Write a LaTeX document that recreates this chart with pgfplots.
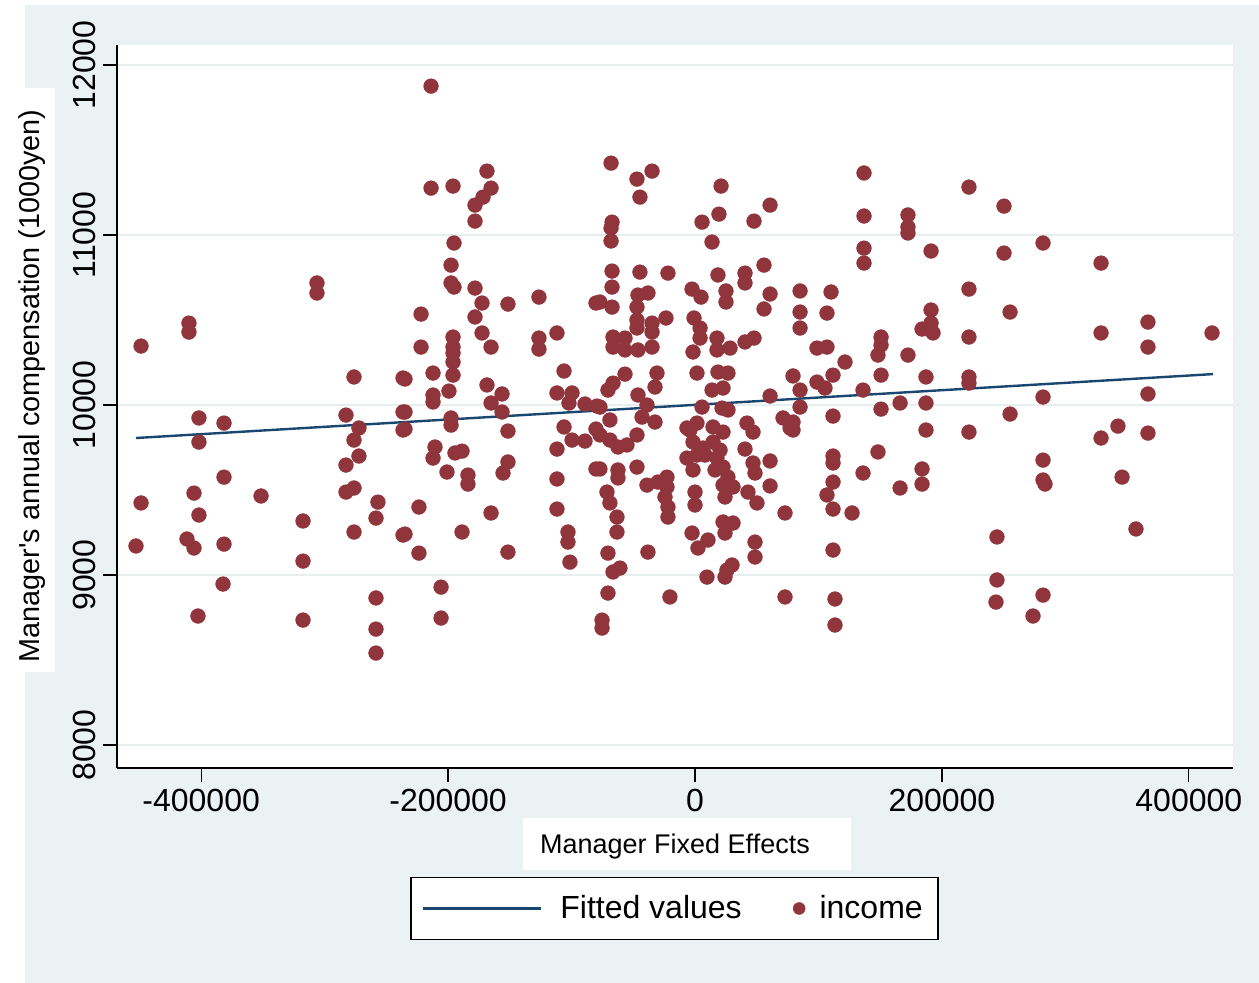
\documentclass[border=0pt]{standalone}
\usepackage{pgfplots}
\pgfplotsset{compat=1.18}
\usepackage{fontspec}
\setmainfont{Liberation Sans}[Ligatures=TeXOff]
\definecolor{bgblue}{RGB}{234,242,243}
\definecolor{gridc}{RGB}{230,238,240}
\definecolor{stmaroon}{RGB}{144,53,59}
\definecolor{stnavy}{RGB}{26,71,111}
\pgfplotsset{
  fitlegend/.style={legend image code/.code={\draw[##1] (0pt,0pt) -- (59pt,0pt); \path[draw=none] (0pt,0pt) (66.5pt,0pt);}},
  dotlegend/.style={legend image code/.code={\draw[mark repeat=2,mark phase=2,##1, mark size=3pt]
     plot coordinates {(0pt,0pt) (6.2pt,0pt) (12.4pt,0pt)}; \path[draw=none] (0pt,0pt) (14.4pt,0pt);}},
}

\pgfplotstableread{
x y
-448700 10347
-409900 10482
-409900 10429
-306200 10718
-306200 10659
-401800 9924
-381500 9894
-401800 9782
-381500 9576
-405800 9482
-448700 9424
-351500 9465
-401800 9353
-317500 9318
-411500 9212
-405800 9159
-452800 9171
-381500 9182
-317500 9082
-382300 8947
-402600 8759
-317500 8735
-276200 10165
-282700 9941
-272200 9865
-276200 9794
-272200 9700
-282700 9647
-276200 9512
-282700 9488
-276200 9253
-256800 9429
-258400 9335
-258400 8865
-258400 8682
-258400 8541
-236500 10159
-236500 9959
-236500 9853
-236500 9235
-213800 11876
-213800 11276
-196000 11288
-168500 11376
-165200 11276
-171700 11223
-178200 11176
-178200 11082
-195200 10953
-197600 10823
-197600 10718
-195200 10694
-178200 10688
-172500 10600
-151500 10594
-126400 10635
-80200 10600
-221900 10535
-178200 10518
-172500 10424
-111800 10424
-126400 10394
-126400 10329
-221900 10341
-165200 10341
-196000 10400
-196000 10341
-196000 10306
-196000 10253
-106100 10200
-234900 10153
-212200 10188
-196000 10176
-212200 10059
-212200 10018
-199300 10082
-168500 10118
-165200 10012
-156300 10065
-156300 9959
-234900 9959
-234900 9859
-197600 9924
-197600 9882
-151500 9847
-210600 9753
-212200 9688
-194400 9718
-188700 9729
-200900 9606
-183900 9588
-183900 9535
-151500 9665
-155500 9600
-223600 9400
-165200 9365
-234900 9241
-188700 9253
-223600 9129
-151500 9135
-205700 8929
-205700 8747
-111800 10071
-99600 10071
-102100 10012
-89100 10006
-79400 9994
-106100 9871
-99600 9794
-89100 9788
-80200 9859
-111800 9741
-80200 9624
-111800 9565
-111800 9388
-102900 9253
-102900 9194
-101300 9076
-68000 11423
-47000 11329
-34800 11376
-44600 11223
-67200 11076
-68000 11041
-68000 10965
21100 11288
19400 11123
5700 11076
13800 10959
47800 11082
60800 11176
-67200 10788
-67200 10694
-44600 10782
-21900 10776
-77000 10606
-67200 10576
18600 10765
40500 10776
40500 10718
55900 10823
-2400 10682
4900 10635
25100 10671
25100 10606
60800 10653
55900 10565
-46200 10647
-38100 10659
-47000 10576
-47000 10500
-47000 10453
-34800 10482
-34800 10429
-23500 10512
-800 10512
4100 10453
4100 10394
-66400 10400
-66400 10341
-56700 10394
-56700 10324
-46200 10324
-34800 10341
-1600 10312
17800 10394
17800 10324
28400 10335
40500 10371
47800 10394
18600 10194
-56700 10182
-30800 10188
1600 10188
26700 10188
-70500 10088
-66400 10129
-46200 10059
-32400 10106
60800 10053
-38900 10000
-42900 9929
-32400 9900
5700 9988
13800 10088
22700 10100
21900 9982
26700 9971
-77000 9988
-68900 9912
71300 9924
77000 9865
-6500 9865
1600 9894
14600 9871
22700 9841
42100 9894
47000 9841
-77000 9824
-68900 9794
-62400 9753
-55100 9765
-47000 9824
-1600 9782
6500 9747
14600 9782
20300 9735
40500 9741
-6500 9688
1600 9706
17800 9688
-1600 9618
22700 9635
26700 9576
22700 9529
30800 9518
24300 9459
47000 9659
48600 9600
60800 9671
60800 9524
42900 9488
50200 9424
72900 9365
-47000 9635
-62400 9618
-62400 9571
-77000 9624
-71300 9488
-68900 9424
-63200 9341
-63200 9253
-38900 9529
-30000 9547
-22700 9576
-22700 9518
-24300 9459
-21900 9400
-21900 9341
0 9488
0 9412
-2400 9247
2400 9159
10500 9206
22700 9312
24300 9247
30800 9306
48600 9194
48600 9106
-70500 9129
-38100 9135
-66400 9018
-60800 9041
9700 8988
24300 8988
30000 9059
25900 9029
-70500 8894
-20300 8871
72900 8871
-75300 8735
-75300 8688
-4100 9853
8100 9706
16200 9618
136900 11365
136900 11112
136900 10923
136900 10835
172500 11118
172500 11047
172500 11012
191200 10906
221900 11282
250300 11170
250300 10894
221900 10682
255200 10547
85100 10671
110200 10665
85100 10547
106900 10541
85100 10453
98800 10335
106900 10341
121500 10253
150700 10400
150700 10353
148200 10294
172500 10294
191200 10559
191200 10482
183900 10447
192800 10424
221900 10400
281900 10953
328900 10835
328900 10424
366900 10488
366900 10341
418800 10424
79400 10171
98800 10135
105300 10100
111800 10176
85100 10088
85100 9988
79400 9900
79400 9853
136100 10088
150700 10176
187100 10165
221900 10165
221900 10129
111800 9935
150700 9976
166100 10012
187100 10012
187100 9853
221900 9841
255200 9947
111800 9700
111800 9659
148200 9724
136100 9600
111800 9547
106900 9471
111800 9388
127200 9365
166100 9512
183900 9624
183900 9535
111800 9147
244600 9224
244600 8971
243800 8841
113400 8859
113400 8706
281900 10047
366900 10065
342600 9876
328900 9806
366900 9835
281900 9676
281900 9559
283500 9535
345900 9576
357200 9271
281900 8882
273800 8759
}\incomedata

\begin{document}
\begin{tikzpicture}
\path[use as bounding box] (-58.5pt,-107.5pt) rectangle (571pt,384pt);
\fill[white] (-58.5pt,-107.5pt) rectangle (571pt,384pt);
\fill[bgblue] (-46pt,-107.5pt) rectangle (571pt,381.5pt);
\begin{axis}[
  at={(0pt,0pt)}, anchor=south west,
  scale only axis, width=558pt, height=361.5pt,
  xmin=-468180, xmax=435780, ymin=7865, ymax=12118,
  axis x line*=bottom, axis y line*=left,
  axis line style={-, black, line width=0.6pt},
  axis background/.style={fill=white},
  xtick={-400000,-200000,0,200000,400000},
  xticklabels={-400000,-200000,0,200000,400000},
  ytick={8000,9000,10000,11000,12000},
  yticklabels={8000,9000,10000,11000,12000},
  scaled ticks=false,
  tick align=outside, major tick length=7pt,
  tick style={black, line width=0.6pt},
  ymajorgrids, grid style={gridc, line width=1.4pt},
  tick label style={font=\fontsize{16}{19}\selectfont},
  yticklabel style={rotate=90, anchor=south},
  legend columns=2,
  legend style={at={(0.4995,-0.1943)}, anchor=center, draw=black, line width=0.8pt,
    fill=white, font=\fontsize{16}{19}\selectfont, inner xsep=5.5pt, inner ysep=7pt,
    /tikz/every even column/.append style={column sep=20.5pt}},
  legend cell align=left,
]
\addplot[stnavy, line width=1.2pt, fitlegend]
  coordinates {(-452800,9806) (419600,10182)};
\addlegendentry{Fitted values}
\addplot[only marks, mark=*, mark size=3.7pt,
  mark options={fill=stmaroon, draw=stmaroon, line width=0.2pt}, dotlegend]
  table[x=x, y=y] {\incomedata};
\addlegendentry{income}
\end{axis}
\node[fill=white, minimum width=292pt, minimum height=22.5pt, inner sep=0pt, rotate=90] at (-42.25pt,194pt) {};
\node[rotate=90, font=\fontsize{14.4}{17}\selectfont, inner sep=0pt] at (-42.5pt,191pt) {Manager's annual compensation (1000yen)};
\node[fill=white, minimum width=164pt, minimum height=26pt, inner sep=0pt] at (285pt,-38pt) {};
\node[font=\fontsize{13.5}{16}\selectfont, inner sep=0pt] at (279pt,-39.5pt) {Manager Fixed Effects};
\end{tikzpicture}
\end{document}
